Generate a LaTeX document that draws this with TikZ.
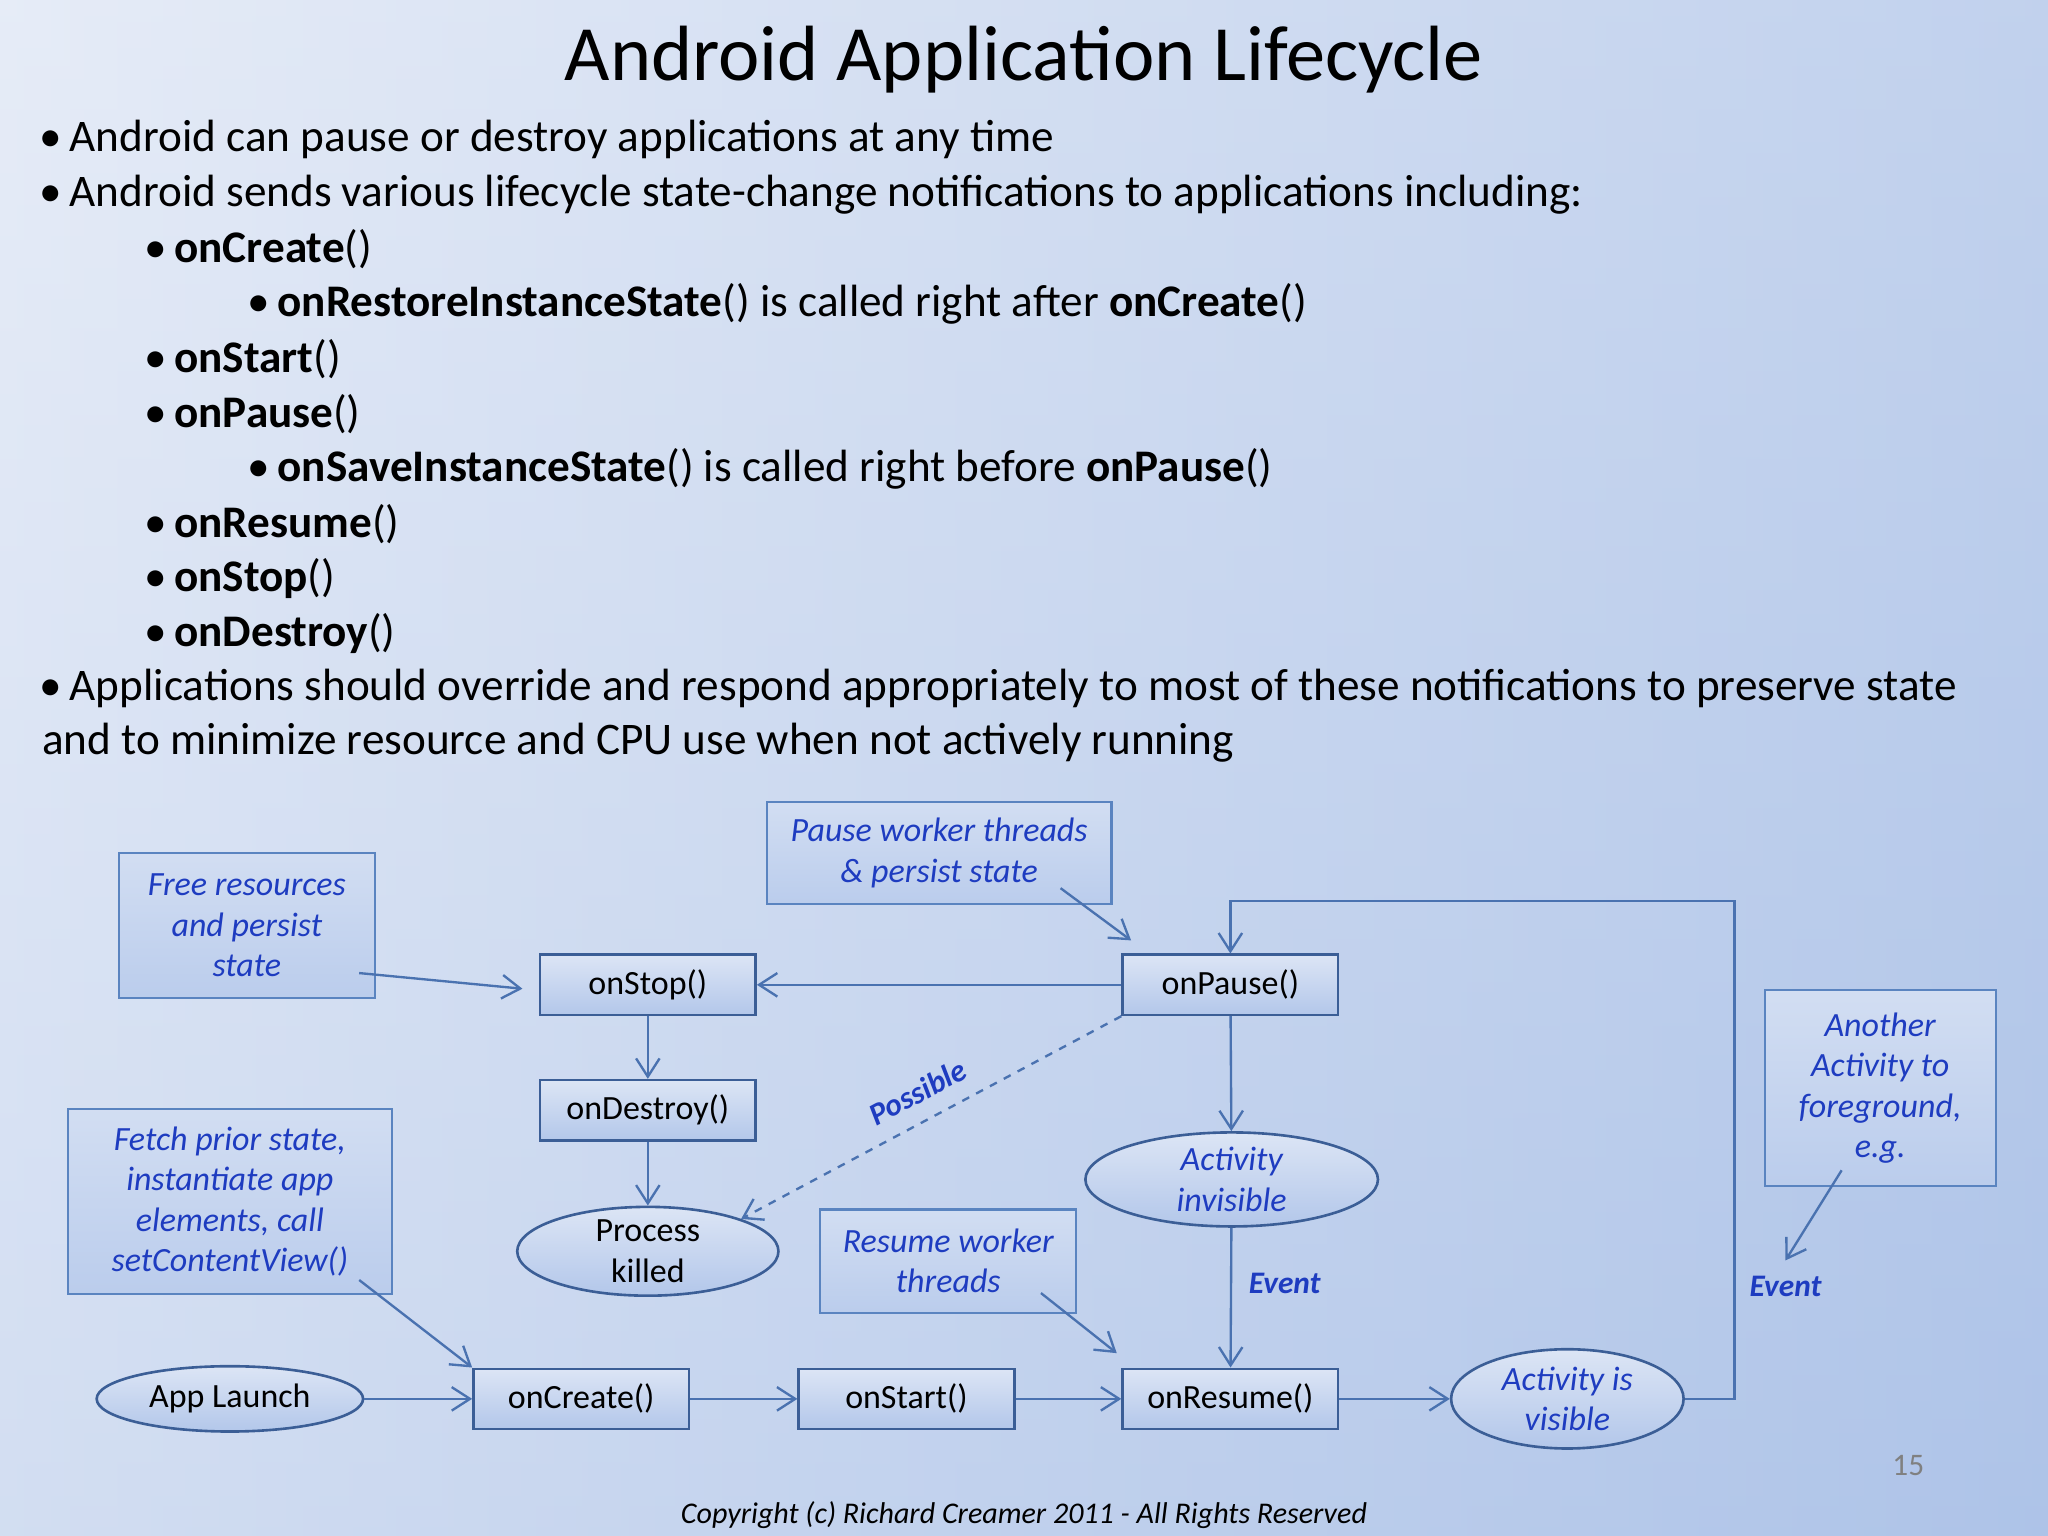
\documentclass[tikz,border=0pt]{standalone}
\usepackage{fontspec}
\setmainfont{Carlito}
\usetikzlibrary{arrows.meta,shapes.geometric}
\definecolor{bd}{HTML}{3B5E96}
\definecolor{ab}{HTML}{5A84C0}
\definecolor{tb}{HTML}{1E3CC0}
\definecolor{ln}{HTML}{4A72B0}
\definecolor{bgA}{HTML}{E6ECF7}
\definecolor{bgB}{HTML}{A9C0E7}
\definecolor{fA}{HTML}{DCE5F5}
\definecolor{fB}{HTML}{B3C7EA}
\begin{document}
\begin{tikzpicture}[x=0.5pt,y=-0.5pt,
  box/.style={draw=bd,line width=1pt,top color=fA,bottom color=fB,minimum width=82.5pt,minimum height=23pt,font=\fontsize{13}{15}\selectfont,inner sep=2pt},
  ell/.style={ellipse,draw=bd,line width=1pt,top color=fA,bottom color=fB,font=\fontsize{13}{15.5}\selectfont,align=center,inner sep=0pt},
  note/.style={draw=ab,line width=0.8pt,top color=fA!80!bgB,bottom color=fB!90!white,font=\fontsize{13}{15.5}\selectfont\itshape,text=tb,align=center,inner sep=0pt},
  ar/.style={draw=ln,line width=0.9pt,-{Straight Barb[length=7pt,width=9pt]}},
  lab/.style={font=\fontsize{12}{14}\selectfont\bfseries\itshape,text=tb},
  t1/.style={anchor=west,font=\fontsize{17.3}{20}\selectfont,inner sep=0pt}]
\shade[top color=bgA,bottom color=bgB!80!bgA] (0,0) rectangle (1568,1176);
\shade[left color=bgA,right color=bgB,opacity=0.6] (0,0) rectangle (1568,1176);
\useasboundingbox (0,0) rectangle (1568,1176);
\node[font=\fontsize{30}{34}\selectfont] (title) at (784,46) {Android Application Lifecycle};
\node[t1] (b1) at (30,107) {\textbullet\,Android can pause or destroy applications at any time};
\node[t1] (b2) at (30,149) {\textbullet\,Android sends various lifecycle state-change notifications to applications including:};
\node[t1] (b3) at (110,191) {\textbullet\,\textbf{onCreate}()};
\node[t1] (b4) at (189,233) {\textbullet\,\textbf{onRestoreInstanceState}() is called right after \textbf{onCreate}()};
\node[t1] (b5) at (110,275) {\textbullet\,\textbf{onStart}()};
\node[t1] (b6) at (110,317) {\textbullet\,\textbf{onPause}()};
\node[t1] (b7) at (189,359) {\textbullet\,\textbf{onSaveInstanceState}() is called right before \textbf{onPause}()};
\node[t1] (b8) at (110,401) {\textbullet\,\textbf{onResume}()};
\node[t1] (b9) at (110,443) {\textbullet\,\textbf{onStop}()};
\node[t1] (b10) at (110,485) {\textbullet\,\textbf{onDestroy}()};
\node[t1] (b11) at (30,527) {\textbullet\,Applications should override and respond appropriately to most of these notifications to preserve state};
\node[t1] (b12) at (32,569) {and to minimize resource and CPU use when not actively running};
\node[note,minimum width=98pt,minimum height=55.5pt] (free) at (189,708.5) {Free resources\\and persist\\state};
\node[note,minimum width=132pt,minimum height=39pt] (pausew) at (719,653) {Pause worker threads\\\& persist state};
\node[note,minimum width=124pt,minimum height=71pt] (fetch) at (176,920) {Fetch prior state,\\instantiate app\\elements, call\\setContentView()};
\node[note,minimum width=98pt,minimum height=39.5pt] (resw) at (726,965.5) {Resume worker\\threads};
\node[note,minimum width=88.5pt,minimum height=75pt] (another) at (1439.5,833) {Another\\Activity to\\foreground,\\e.g.};
\node[box] (stop) at (496,754) {onStop()};
\node[box] (pause) at (942,754) {onPause()};
\node[box] (destroy) at (496,850) {onDestroy()};
\node[ell,minimum width=100pt,minimum height=34pt] (killed) at (496,958) {Process\\killed};
\node[ell,minimum width=112pt,minimum height=36pt,text=tb,font=\fontsize{13}{15.5}\selectfont\itshape] (invis) at (943,903) {Activity\\invisible};
\node[ell,minimum width=102pt,minimum height=25pt] (launch) at (176,1071) {App Launch};
\node[box] (create) at (445,1071) {onCreate()};
\node[box] (start) at (694,1071) {onStart()};
\node[box] (resume) at (942,1071) {onResume()};
\node[ell,minimum width=89pt,minimum height=38pt,text=tb,font=\fontsize{13}{15.5}\selectfont\itshape] (vis) at (1200,1071) {Activity is\\visible};
\coordinate (c1) at (1328,1071); \coordinate (c2) at (1328,690); \coordinate (c3) at (942,690);
\draw[ar] (vis.east) -- (c1) -- (c2) -- (c3) -- (pause.north);
\draw[ar] (pause) -- (stop);
\draw[ar] (stop) -- (destroy);
\draw[ar] (destroy) -- (killed);
\draw[ar] (pause) -- (invis);
\draw[ar] (invis) -- node[lab,right=3pt,pos=0.4] {Event} (resume);
\draw[ar] (launch) -- (create);
\draw[ar] (create) -- (start);
\draw[ar] (start) -- (resume);
\draw[ar] (resume) -- (vis);
\draw[ar,dashed] (pause.south west) -- node[lab,sloped,above=3pt,pos=0.5] {Possible} (killed.north east);
\coordinate (f1) at (275,745); \draw[ar] (f1) -- (400,757);
\coordinate (p1) at (812,680); \draw[ar] (p1) -- (866,720);
\coordinate (fe1) at (275,980); \draw[ar] (fe1) -- (create.north west);
\coordinate (r1) at (797,990); \draw[ar] (r1) -- (855,1036);
\coordinate (a1) at (1410,896); \draw[ar] (a1) -- (1367,965);
\node[lab] (ev2) at (1367,985) {Event};
\node[text=gray,font=\fontsize{12}{14}\selectfont] (pg) at (1461,1122) {15};
\node[font=\fontsize{11.5}{13}\selectfont\itshape] (copy) at (784,1160) {Copyright (c) Richard Creamer 2011 - All Rights Reserved};
\end{tikzpicture}
\end{document}
